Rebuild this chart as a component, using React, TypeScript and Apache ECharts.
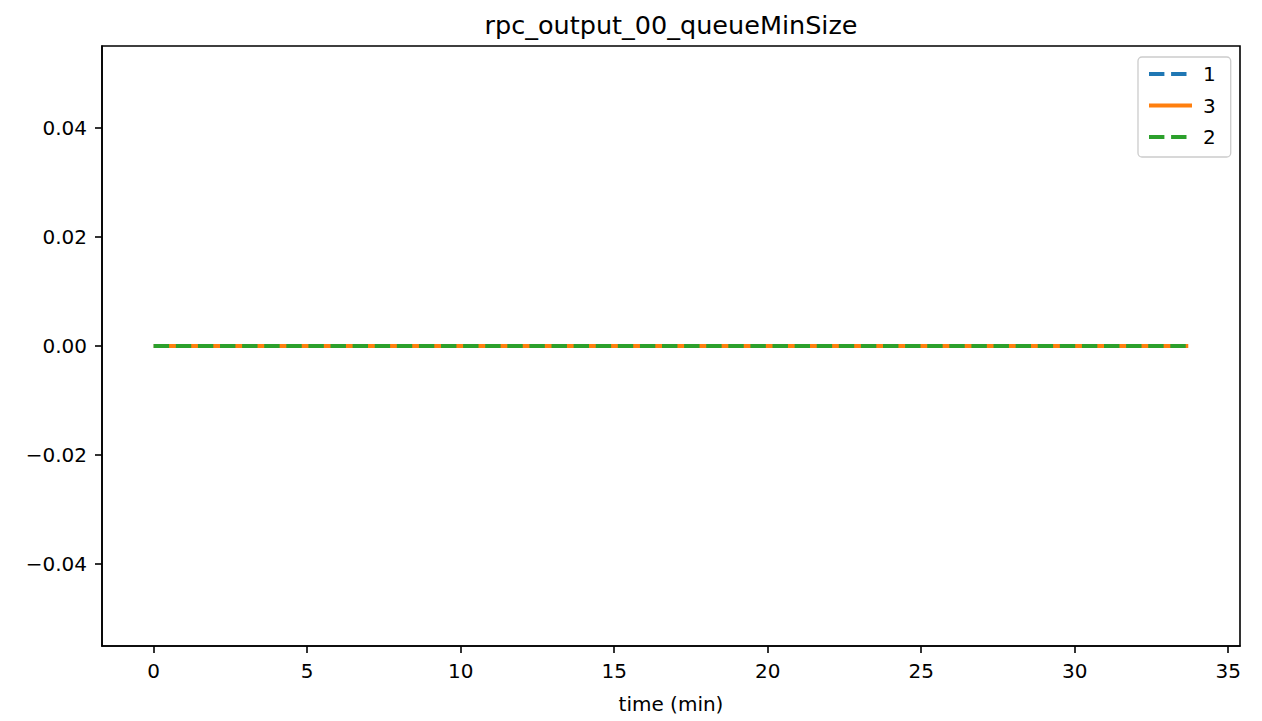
import React, { useEffect, useRef } from "react";
import * as echarts from "echarts";

const times = [0, 1, 2, 3, 4, 5, 6, 7, 8, 9, 10, 11, 12, 13, 14, 15, 16, 17, 18, 19, 20, 21, 22, 23, 24, 25, 26, 27, 28, 29, 30, 31, 32, 33, 33.7];
const series1 = [0, 0, 0, 0, 0, 0, 0, 0, 0, 0, 0, 0, 0, 0, 0, 0, 0, 0, 0, 0, 0, 0, 0, 0, 0, 0, 0, 0, 0, 0, 0, 0, 0, 0, 0];
const series3 = [0, 0, 0, 0, 0, 0, 0, 0, 0, 0, 0, 0, 0, 0, 0, 0, 0, 0, 0, 0, 0, 0, 0, 0, 0, 0, 0, 0, 0, 0, 0, 0, 0, 0, 0];
const series2 = [0, 0, 0, 0, 0, 0, 0, 0, 0, 0, 0, 0, 0, 0, 0, 0, 0, 0, 0, 0, 0, 0, 0, 0, 0, 0, 0, 0, 0, 0, 0, 0, 0, 0, 0];
const xTicks = [0, 5, 10, 15, 20, 25, 30, 35];
const yTicks = [-0.04, -0.02, 0, 0.02, 0.04];
const seriesNames = ["1", "3", "2"];
const seriesColors = ["#1f77b4", "#ff7f0e", "#2ca02c"];
const seriesDashed = [true, false, true];

const FONT = "DejaVu Sans";

export default function App() {
  const ref = useRef<HTMLDivElement>(null);
  useEffect(() => {
    if (!ref.current) return;
    const chart = echarts.init(ref.current, null, { renderer: "svg" });
    const pair = (ys: number[]) => times.map((t, i) => [t, ys[i]]);
    const dash = [15.4, 6.7];
    const values = [series1, series3, series2];
    chart.setOption({
      animation: false,
      backgroundColor: "#fff",
      title: {
        text: "rpc_output_00_queueMinSize",
        left: 666,
        top: 7,
        textAlign: "center",
        textStyle: { fontFamily: FONT, fontSize: 25.5, fontWeight: "normal", color: "#000" },
      },
      grid: {
        left: 102,
        right: 22,
        top: 46,
        bottom: 75,
        show: true,
        borderColor: "#000",
        borderWidth: 1.6,
        backgroundColor: "#fff",
      },
      legend: {
        orient: "vertical",
        left: 1138,
        top: 57,
        data: seriesNames.map((n, i) => ({
          name: n,
          itemStyle: { opacity: 0 },
          lineStyle: { color: seriesColors[i], width: 4, type: seriesDashed[i] ? dash : "solid", opacity: 1 },
        })),
        itemWidth: 43,
        itemHeight: 14,
        itemGap: 11.5,
        padding: [7, 15, 10, 9],
        borderColor: "#cccccc",
        borderWidth: 1.3,
        borderRadius: 4,
        backgroundColor: "rgba(255,255,255,0.8)",
        textStyle: { fontFamily: FONT, fontSize: 20, color: "#000", lineHeight: 20, padding: [0, 0, 0, 6] },
      },
      xAxis: {
        type: "value",
        min: -1.685,
        max: 35.385,
        name: "time (min)",
        nameLocation: "middle",
        nameGap: 48,
        nameTextStyle: { fontFamily: FONT, fontSize: 20, color: "#000" },
        splitLine: { show: false },
        axisLine: { show: true, onZero: false, lineStyle: { color: "#000", width: 1.6 } },
        axisTick: { show: true, inside: false, length: 7, customValues: xTicks, lineStyle: { color: "#000", width: 1.6 } },
        axisLabel: {
          customValues: xTicks,
          margin: 15,
          fontFamily: FONT,
          fontSize: 20,
          color: "#000",
          formatter: (v: number) => String(v),
        },
      },
      yAxis: {
        type: "value",
        min: -0.055,
        max: 0.055,
        splitLine: { show: false },
        axisLine: { show: true, onZero: false, lineStyle: { color: "#000", width: 1.6 } },
        axisTick: { show: true, inside: false, length: 7, customValues: yTicks, lineStyle: { color: "#000", width: 1.6 } },
        axisLabel: {
          customValues: yTicks,
          margin: 15,
          fontFamily: FONT,
          fontSize: 20,
          color: "#000",
          formatter: (v: number) => {
            const s = Math.abs(v).toFixed(2);
            return v < -1e-9 ? "\u2212" + s : s;
          },
        },
      },
      series: seriesNames.map((n, i) => ({
        name: n,
        type: "line",
        data: pair(values[i]),
        showSymbol: false,
        symbol: "none",
        color: seriesColors[i],
        lineStyle: { color: seriesColors[i], width: 4, type: seriesDashed[i] ? dash : "solid" },
      })),
    });
    return () => chart.dispose();
  }, []);
  return (
    <div
      ref={ref}
      style={{ position: "fixed", left: 0, top: 0, width: 1262, height: 721 }}
    />
  );
}
